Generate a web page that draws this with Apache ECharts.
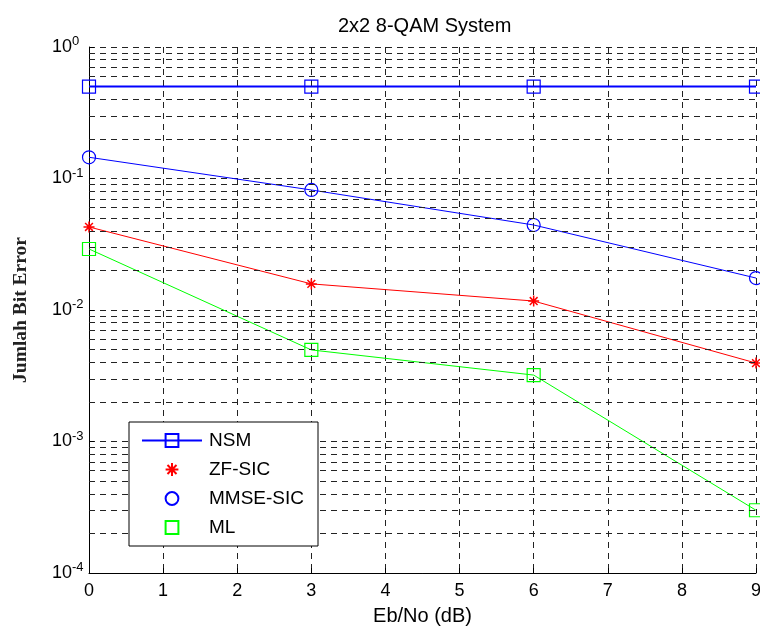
<!DOCTYPE html>
<html><head><meta charset="utf-8">
<script src="https://cdn.jsdelivr.net/npm/echarts@6/dist/echarts.min.js"></script>
<style>html,body{margin:0;padding:0;background:#fff}#c{width:760px;height:629px}</style>
</head><body><div id="c"></div>
<script>
const xValues = [0, 3, 6, 9];
const nsm = [0.5, 0.5, 0.5, 0.5];
const zfSic = [0.0428, 0.0158, 0.0117, 0.00395];
const mmseSic = [0.145, 0.0818, 0.0443, 0.0175];
const ml = [0.0291, 0.00497, 0.0032, 0.0003];
const minorGridValues = [];
[1e-4, 1e-3, 1e-2, 1e-1].forEach(d => { for (let k = 2; k <= 9; k++) minorGridValues.push(+(d * k).toPrecision(3)); });

const pair = arr => xValues.map((x, i) => [x, arr[i]]);
const gridDash = { color: '#222', width: 1, type: [6, 5] };
const star = 'path://M0,-1L0,1M-1,0L1,0M-0.707,-0.707L0.707,0.707M-0.707,0.707L0.707,-0.707';
const FONT = 'Liberation Sans, Arial, sans-serif';

const chart = echarts.init(document.getElementById('c'), null, { renderer: 'canvas' });
chart.setOption({
  animation: false,
  backgroundColor: '#fff',
  title: {
    text: '2x2 8-QAM System', left: 333, top: 11,
    textStyle: { fontFamily: FONT, fontSize: 20, fontWeight: 'normal', color: '#000' }
  },
  grid: { left: 89, right: 4, top: 47, bottom: 56, outerBoundsMode: 'none', containLabel: false },
  legend: {
    orient: 'vertical', left: 129, top: 422, z: 30,
    padding: [9, 14, 9, 12], itemGap: 10, itemWidth: 60, itemHeight: 16,
    backgroundColor: '#fff', borderColor: '#000', borderWidth: 1, borderRadius: 0,
    textStyle: { fontFamily: FONT, fontSize: 19, lineHeight: 18, color: '#000', padding: [0, 0, 0, 2] },
    data: [
      { name: 'NSM' },
      { name: 'ZF-SIC', lineStyle: { opacity: 0 } },
      { name: 'MMSE-SIC', lineStyle: { opacity: 0 } },
      { name: 'ML', lineStyle: { opacity: 0 } }
    ]
  },
  xAxis: {
    type: 'value', min: 0, max: 9, interval: 1,
    name: 'Eb/No (dB)', nameLocation: 'middle', nameGap: 33,
    nameTextStyle: { fontFamily: FONT, fontSize: 20, color: '#000' },
    axisLine: { lineStyle: { color: '#000', width: 1 } },
    axisTick: { inside: true, length: 5, lineStyle: { color: '#000' } },
    axisLabel: { fontFamily: FONT, fontSize: 18, color: '#000', margin: 9 },
    splitLine: { show: true, lineStyle: gridDash }
  },
  yAxis: {
    type: 'log', logBase: 10, min: 1e-4, max: 1,
    name: 'Jumlah Bit Error', nameLocation: 'middle', nameGap: 58,
    nameTextStyle: { fontFamily: 'Liberation Serif, Times New Roman, serif', fontSize: 19.5, fontWeight: 'bold', color: '#222' },
    axisLine: { show: true, lineStyle: { color: '#000', width: 1 } },
    axisTick: { inside: true, length: 5, lineStyle: { color: '#000' } },
    axisLabel: {
      margin: 37, align: 'left',
      formatter: v => '{b|10}{s|' + Math.round(Math.log10(v)) + '}',
      rich: {
        b: { fontFamily: FONT, fontSize: 18, color: '#000' },
        s: { fontFamily: FONT, fontSize: 13, color: '#000', padding: [0, 0, 11, 0] }
      }
    },
    splitLine: { show: true, lineStyle: gridDash }
  },
  series: [
    {
      name: 'minor-grid', type: 'line', data: [], silent: true, z: 1,
      markLine: {
        silent: true, symbol: 'none', precision: 10, label: { show: false },
        lineStyle: gridDash, emphasis: { disabled: true },
        data: minorGridValues.map(v => ({ yAxis: v }))
      }
    },
    {
      name: 'NSM', type: 'line', data: pair(nsm), z: 5,
      symbol: 'rect', symbolSize: 13,
      lineStyle: { color: '#0000ff', width: 2 },
      itemStyle: { color: 'rgba(0,0,0,0)', borderColor: '#0000ff', borderWidth: 1.2 }
    },
    {
      name: 'ZF-SIC', type: 'line', data: pair(zfSic), z: 4,
      symbol: star, symbolSize: 11,
      lineStyle: { color: '#ff0000', width: 1 },
      itemStyle: { color: 'rgba(0,0,0,0)', borderColor: '#ff0000', borderWidth: 1.5 }
    },
    {
      name: 'MMSE-SIC', type: 'line', data: pair(mmseSic), z: 4,
      symbol: 'circle', symbolSize: 13,
      lineStyle: { color: '#0000ff', width: 1 },
      itemStyle: { color: 'rgba(0,0,0,0)', borderColor: '#0000ff', borderWidth: 1.2 }
    },
    {
      name: 'ML', type: 'line', data: pair(ml), z: 4,
      symbol: 'rect', symbolSize: 13,
      lineStyle: { color: '#00ff00', width: 1 },
      itemStyle: { color: 'rgba(0,0,0,0)', borderColor: '#00ff00', borderWidth: 1.2 }
    }
  ]
});
</script></body></html>
